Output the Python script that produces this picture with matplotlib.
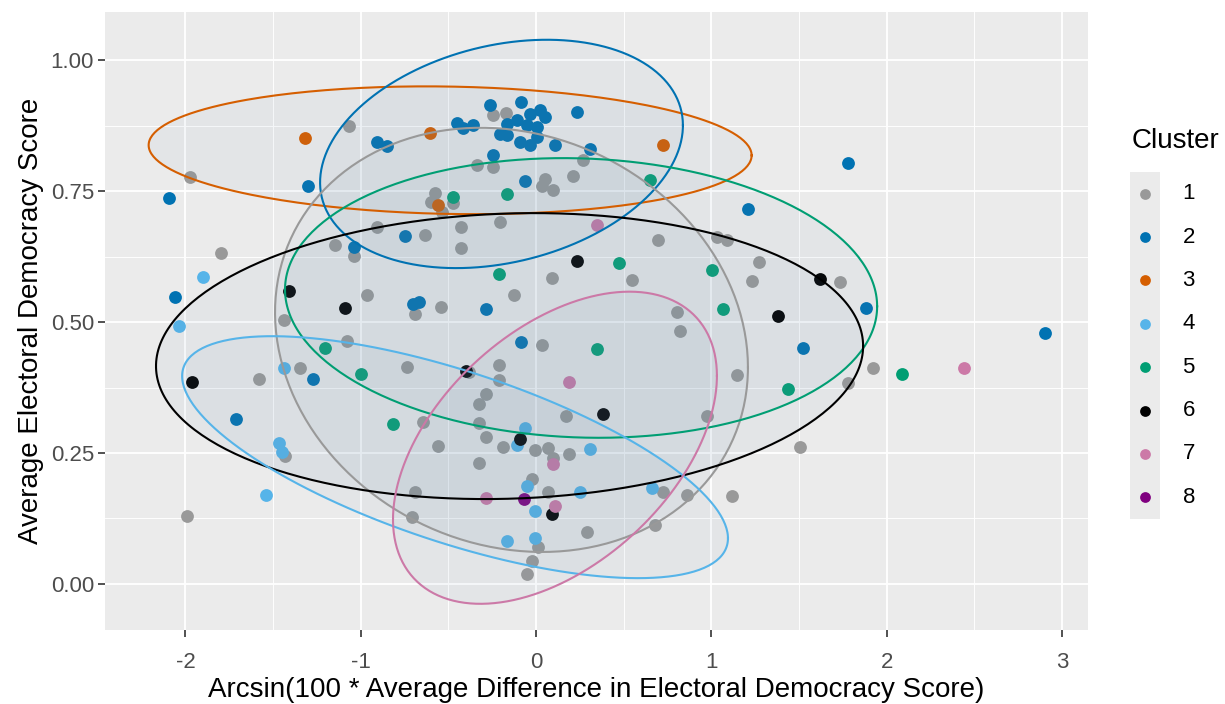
import numpy as np
import matplotlib
matplotlib.use("Agg")
import matplotlib.pyplot as plt
from matplotlib.ticker import MultipleLocator

plt.rcParams["font.family"] = ["Liberation Sans", "DejaVu Sans"]
plt.rcParams["axes.unicode_minus"] = False

# cluster colours (1..8)
colors = ["#999999", "#0072B2", "#D55E00", "#56B4E9",
          "#009E73", "#000000", "#CC79A7", "#800080"]
labels = ["1", "2", "3", "4", "5", "6", "7", "8"]

# points per cluster
c1_x = [-1.065, -1.974, -0.909, -0.171, -0.247, -0.338, -0.243, 0.270, 0.209, 0.051,
        0.032, 0.095, -0.576, -0.600, -0.472, -0.538, -0.205, -0.430, -1.799, -1.147,
        -1.038, -0.966, -0.633, -0.690, -1.436, -1.080, -0.738, -1.346, -1.578, -0.643,
        -1.432, -1.993, -0.690, -0.706, -0.430, 0.694, 0.093, 0.546, -0.125, -0.542,
        0.802, 0.821, 0.032, -0.380, -0.209, -0.209, 1.145, -0.285, -0.323, 0.171,
        0.974, -0.323, -0.285, 1.270, 1.234, 1.031, 1.088, 1.734, 1.924, 1.782,
        1.506, -0.557, -0.186, -0.006, 0.070, 0.095, 0.190, -0.323, -0.025, 0.070,
        0.726, 0.859, 1.116, 0.289, 0.679, 0.013, -0.025, -0.050]
c1_y = [0.874, 0.776, 0.682, 0.900, 0.895, 0.800, 0.796, 0.810, 0.779, 0.774,
        0.760, 0.753, 0.746, 0.730, 0.727, 0.711, 0.691, 0.682, 0.631, 0.647,
        0.626, 0.552, 0.666, 0.515, 0.504, 0.464, 0.415, 0.412, 0.391, 0.310,
        0.244, 0.130, 0.176, 0.127, 0.641, 0.656, 0.585, 0.581, 0.552, 0.528,
        0.520, 0.482, 0.456, 0.405, 0.418, 0.389, 0.398, 0.362, 0.344, 0.321,
        0.321, 0.307, 0.281, 0.615, 0.579, 0.663, 0.656, 0.577, 0.412, 0.383,
        0.261, 0.263, 0.262, 0.256, 0.259, 0.240, 0.249, 0.230, 0.200, 0.176,
        0.175, 0.170, 0.167, 0.100, 0.113, 0.071, 0.043, 0.019]

c2_x = [-0.909, -0.852, -1.299, -2.094, -0.262, -0.087, 0.232, -0.110, -0.034, 0.023,
        0.051, 0.004, -0.053, -0.167, -0.205, -0.167, -0.091, -0.034, 0.004, -0.449,
        -0.415, -0.361, 0.108, 0.308, -0.243, -0.063, 1.211, 1.778, -2.059, -1.036,
        -0.747, -0.666, -0.700, -1.270, -1.713, -0.285, -0.087, 1.882, 1.525, 2.904]
c2_y = [0.844, 0.836, 0.760, 0.736, 0.914, 0.920, 0.901, 0.885, 0.898, 0.905,
        0.892, 0.873, 0.876, 0.879, 0.860, 0.857, 0.844, 0.838, 0.854, 0.880,
        0.870, 0.876, 0.838, 0.831, 0.819, 0.770, 0.715, 0.804, 0.548, 0.643,
        0.664, 0.539, 0.535, 0.391, 0.315, 0.524, 0.461, 0.526, 0.450, 0.480]

c3_x = [-1.318, -0.605, -0.557, 0.726]
c3_y = [0.851, 0.861, 0.723, 0.838]

c4_x = [-1.898, -2.035, -1.436, -1.464, -1.451, -1.540, -0.063, -0.110, 0.308, -0.050,
        0.251, -0.006, 0.660, -0.167, -0.006]
c4_y = [0.586, 0.492, 0.412, 0.270, 0.251, 0.170, 0.297, 0.265, 0.257, 0.187,
        0.176, 0.140, 0.184, 0.082, 0.087]

c5_x = [0.650, -0.167, -0.472, -1.204, -1.000, -0.814, 0.475, -0.209, 1.002, 1.065,
        0.346, 2.086, 1.439]
c5_y = [0.771, 0.744, 0.738, 0.450, 0.400, 0.305, 0.612, 0.591, 0.599, 0.524,
        0.448, 0.400, 0.372]

c6_x = [-1.407, -1.090, -1.964, 0.232, -0.400, 0.384, -0.091, 0.093, 1.620, 1.379]
c6_y = [0.559, 0.526, 0.385, 0.617, 0.407, 0.324, 0.276, 0.134, 0.583, 0.511]

c7_x = [0.346, 0.190, 0.095, -0.285, 0.108, 2.443]
c7_y = [0.685, 0.385, 0.229, 0.164, 0.149, 0.412]

c8_x = [-0.067]
c8_y = [0.162]

xs = [c1_x, c2_x, c3_x, c4_x, c5_x, c6_x, c7_x, c8_x]
ys = [c1_y, c2_y, c3_y, c4_y, c5_y, c6_y, c7_y, c8_y]

# ellipse summaries (cluster index, centre, half-ranges, correlation)
ell_cluster = [3, 2, 1, 5, 6, 4, 7]
ell_cx = [-0.49, -0.197, -0.140, 0.257, -0.151, -0.462, 0.108]
ell_cy = [0.828, 0.821, 0.466, 0.546, 0.435, 0.242, 0.260]
ell_rx = [1.72, 1.035, 1.349, 1.689, 2.017, 1.557, 0.924]
ell_ry = [0.122, 0.218, 0.405, 0.267, 0.273, 0.231, 0.298]
ell_rho = [-0.08, 0.25, -0.13, -0.06, 0.07, -0.67, 0.46]

W, H = 1225, 704
fig = plt.figure(figsize=(W / 100, H / 100), dpi=100)
ax = fig.add_axes([105 / W, 1 - 630 / H, (1088 - 105) / W, (630 - 12) / H])
ax.set_facecolor("#EBEBEB")
for s in ax.spines.values():
    s.set_visible(False)

ax.set_xlim(-2.459, 3.149)
ax.set_ylim(-0.088, 1.092)
ax.xaxis.set_major_locator(MultipleLocator(1))
ax.xaxis.set_minor_locator(MultipleLocator(0.5))
ax.yaxis.set_major_locator(MultipleLocator(0.25))
ax.yaxis.set_minor_locator(MultipleLocator(0.125))
ax.set_yticks([0, 0.25, 0.5, 0.75, 1.0])
ax.set_yticklabels(["0.00", "0.25", "0.50", "0.75", "1.00"])
ax.grid(which="major", color="white", lw=1.3)
ax.grid(which="minor", color="white", lw=0.65)
ax.set_axisbelow(True)
ax.tick_params(which="major", length=5, width=1.2, color="#333333",
               labelsize=16, labelcolor="#4D4D4D", pad=3)
ax.tick_params(axis="x", which="major", pad=11)
ax.tick_params(which="minor", length=0)

for i in range(8):
    ax.scatter(xs[i], ys[i], s=85, color=colors[i], lw=0, zorder=2)

t = np.linspace(0, 2 * np.pi, 300)
for k in range(len(ell_cluster)):
    c = colors[ell_cluster[k] - 1]
    rho = ell_rho[k]
    ex = ell_cx[k] + ell_rx[k] * np.cos(t)
    ey = ell_cy[k] + ell_ry[k] * (rho * np.cos(t) + np.sqrt(1 - rho ** 2) * np.sin(t))
    ax.fill(ex, ey, color="#678DAB", alpha=0.06, lw=0, zorder=3)
    ax.plot(ex, ey, color=c, lw=1.5, zorder=4)

ax.set_xlabel("Arcsin(100 * Average Difference in Electoral Democracy Score)",
              fontsize=20, labelpad=3)
ax.set_ylabel("Average Electoral Democracy Score", fontsize=20, labelpad=5)

# legend, ggplot style
fig.text(1132 / W, 1 - 141 / H, "Cluster", fontsize=20, va="center", ha="left")
lax = fig.add_axes([1130 / W, 1 - 519 / H, 30 / W, (519 - 172) / H])
lax.set_facecolor("#EBEBEB")
for s in lax.spines.values():
    s.set_visible(False)
lax.set_xticks([])
lax.set_yticks([])
lax.set_xlim(-1, 1)
lax.set_ylim(8.5, 0.5)
for i in range(8):
    lax.scatter([0], [i + 1], s=60, color=colors[i], lw=0)
    lax.text(2.5, i + 1, labels[i], fontsize=16, va="center", ha="left",
             clip_on=False)

fig.savefig("out.png", dpi=100)
